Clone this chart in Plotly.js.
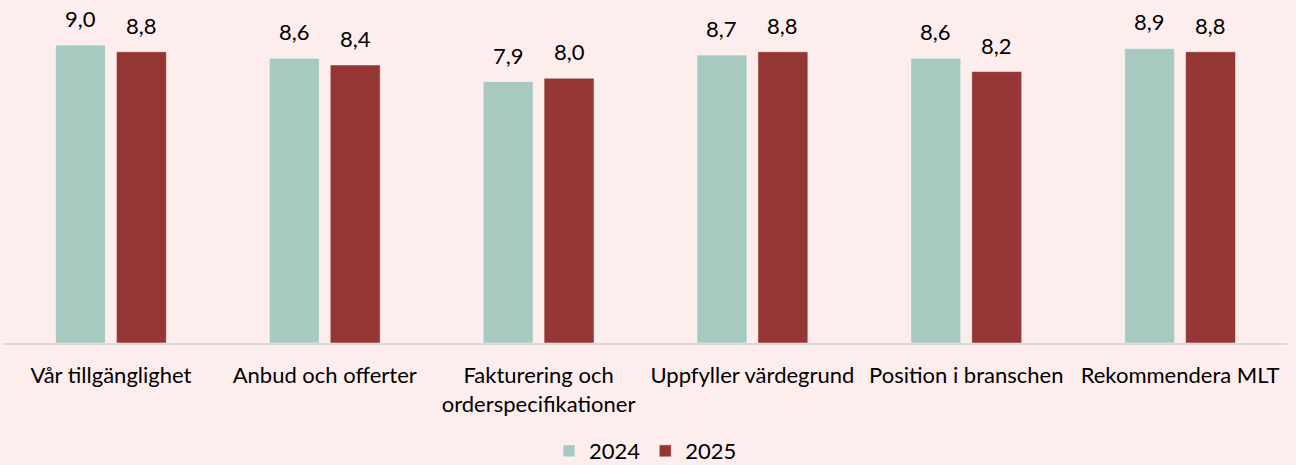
<!DOCTYPE html>
<html><head><meta charset="utf-8">
<script src="https://cdn.plot.ly/plotly-3.0.1.min.js"></script>
<style>body{margin:0;background:#fdeded;}</style>
</head><body><div id="chart" style="width:1296px;height:465px;"></div>
<script>
const categories = ["Vår tillgänglighet","Anbud och offerter","Fakturering och<br>orderspecifikationer","Uppfyller värdegrund","Position i branschen","Rekommendera MLT"];
const values2024 = [9.0, 8.6, 7.9, 8.7, 8.6, 8.9];
const values2025 = [8.8, 8.4, 8.0, 8.8, 8.2, 8.8];
const seriesNames = ["2024","2025"];
const fmt = v => v.toFixed(1).replace('.', ',');
const FONT = 'Lato, "Liberation Sans", sans-serif';
const colors = ['#a8c9c0', '#943634'];
const traces = [values2024, values2025].map((vals, i) => ({
  type: 'bar', name: seriesNames[i], x: categories, y: vals,
  marker: {color: colors[i], line: {color: 'rgba(255,255,255,0.5)', width: 1}},
  hoverinfo: 'skip'
}));
const annotations = [];
[values2024, values2025].forEach((vals, i) => {
  vals.forEach((v, j) => annotations.push({
    x: categories[j], y: v, xref: 'x', yref: 'y', text: fmt(v), showarrow: false,
    xshift: i === 0 ? -30.5 : 30.5, yanchor: 'bottom', yshift: 11,
    font: {family: FONT, size: 22, color: '#000'}
  }));
});
const layout = {
  width: 1296, height: 465,
  paper_bgcolor: '#fdeded', plot_bgcolor: '#fdeded',
  margin: {l: 4, r: 9, t: 12, b: 122, autoexpand: false},
  barmode: 'group', bargap: 0.43, bargroupgap: 0.18,
  font: {family: FONT, size: 22, color: '#000'},
  xaxis: {showline: true, linecolor: '#d9d9d9', linewidth: 2, ticks: '', ticklabelstandoff: 12,
          automargin: false,
          tickfont: {family: FONT, size: 22, color: '#000'}, fixedrange: true},
  yaxis: {range: [0, 10], visible: false, showgrid: false, zeroline: false, automargin: false},
  showlegend: true,
  legend: {orientation: 'h', x: 0.5, xanchor: 'center', xref: 'paper', yref: 'container', y: 0.03, yanchor: 'middle',
           font: {family: FONT, size: 22, color: '#000'}, itemwidth: 30, tracegroupgap: 0},
  annotations: annotations
};
Plotly.newPlot('chart', traces, layout, {displayModeBar: false, staticPlot: true});
</script></body></html>
